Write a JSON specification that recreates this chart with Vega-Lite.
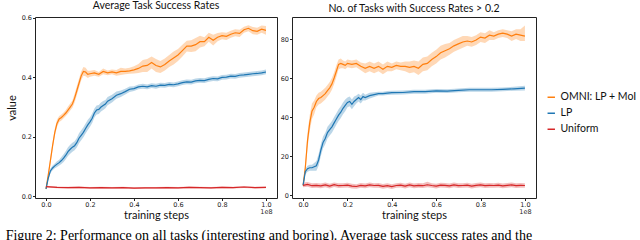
{
 "$schema": "https://vega.github.io/schema/vega-lite/v6.json",
 "padding": {"left": 5, "top": 0, "right": 0, "bottom": 0},
 "background": "white",
 "title": {"text": "Figure 2: Performance on all tasks (interesting and boring). Average task success rates and the", "orient": "bottom", "anchor": "start", "frame": "bounds", "font": "Liberation Serif", "fontSize": 14, "fontWeight": "normal", "color": "#000", "offset": 8},
 "config": {
  "view": {"stroke": "#222", "strokeWidth": 1},
  "axis": {"domain": false, "grid": false, "ticks": true, "tickColor": "#222", "tickSize": 2.5, "labelFont": "DejaVu Sans", "labelFontSize": 6.5, "labelColor": "#222", "labelPadding": 1, "labelOverlap": false, "titleFont": "Lato", "titleFontSize": 11, "titleFontWeight": "normal", "titleColor": "#111", "labelLineHeight": 7},
  "title": {"font": "Lato", "fontSize": 10.5, "fontWeight": "normal", "color": "#111", "offset": 3},
  "legend": {"title": null, "labelFont": "Lato", "labelFontSize": 10.5, "labelColor": "#111", "symbolSize": 55, "symbolStrokeWidth": 1.5, "rowPadding": 5}
 },
 "datasets": {
  "avg": [
   {"step":0,"method":"OMNI: LP + MoI","value":0.025,"lo":0.021,"hi":0.029},
   {"step":0.01,"method":"OMNI: LP + MoI","value":0.07,"lo":0.06,"hi":0.08},
   {"step":0.02,"method":"OMNI: LP + MoI","value":0.12,"lo":0.108,"hi":0.132},
   {"step":0.03,"method":"OMNI: LP + MoI","value":0.17,"lo":0.158,"hi":0.182},
   {"step":0.04,"method":"OMNI: LP + MoI","value":0.215,"lo":0.203,"hi":0.227},
   {"step":0.05,"method":"OMNI: LP + MoI","value":0.245,"lo":0.233,"hi":0.257},
   {"step":0.06,"method":"OMNI: LP + MoI","value":0.26,"lo":0.25,"hi":0.27},
   {"step":0.07,"method":"OMNI: LP + MoI","value":0.265,"lo":0.255,"hi":0.275},
   {"step":0.08,"method":"OMNI: LP + MoI","value":0.272,"lo":0.262,"hi":0.282},
   {"step":0.09,"method":"OMNI: LP + MoI","value":0.28,"lo":0.27,"hi":0.29},
   {"step":0.10,"method":"OMNI: LP + MoI","value":0.29,"lo":0.278,"hi":0.302},
   {"step":0.11,"method":"OMNI: LP + MoI","value":0.30,"lo":0.288,"hi":0.312},
   {"step":0.12,"method":"OMNI: LP + MoI","value":0.31,"lo":0.298,"hi":0.322},
   {"step":0.13,"method":"OMNI: LP + MoI","value":0.33,"lo":0.315,"hi":0.345},
   {"step":0.14,"method":"OMNI: LP + MoI","value":0.355,"lo":0.34,"hi":0.37},
   {"step":0.15,"method":"OMNI: LP + MoI","value":0.38,"lo":0.365,"hi":0.395},
   {"step":0.16,"method":"OMNI: LP + MoI","value":0.405,"lo":0.39,"hi":0.42},
   {"step":0.17,"method":"OMNI: LP + MoI","value":0.42,"lo":0.405,"hi":0.435},
   {"step":0.18,"method":"OMNI: LP + MoI","value":0.418,"lo":0.404,"hi":0.432},
   {"step":0.19,"method":"OMNI: LP + MoI","value":0.41,"lo":0.398,"hi":0.422},
   {"step":0.20,"method":"OMNI: LP + MoI","value":0.412,"lo":0.402,"hi":0.422},
   {"step":0.22,"method":"OMNI: LP + MoI","value":0.415,"lo":0.405,"hi":0.425},
   {"step":0.24,"method":"OMNI: LP + MoI","value":0.41,"lo":0.402,"hi":0.418},
   {"step":0.26,"method":"OMNI: LP + MoI","value":0.42,"lo":0.41,"hi":0.43},
   {"step":0.28,"method":"OMNI: LP + MoI","value":0.415,"lo":0.407,"hi":0.423},
   {"step":0.30,"method":"OMNI: LP + MoI","value":0.418,"lo":0.41,"hi":0.426},
   {"step":0.32,"method":"OMNI: LP + MoI","value":0.415,"lo":0.405,"hi":0.425},
   {"step":0.34,"method":"OMNI: LP + MoI","value":0.42,"lo":0.408,"hi":0.432},
   {"step":0.36,"method":"OMNI: LP + MoI","value":0.42,"lo":0.41,"hi":0.43},
   {"step":0.38,"method":"OMNI: LP + MoI","value":0.422,"lo":0.412,"hi":0.432},
   {"step":0.40,"method":"OMNI: LP + MoI","value":0.425,"lo":0.413,"hi":0.437},
   {"step":0.42,"method":"OMNI: LP + MoI","value":0.43,"lo":0.415,"hi":0.445},
   {"step":0.44,"method":"OMNI: LP + MoI","value":0.438,"lo":0.418,"hi":0.458},
   {"step":0.46,"method":"OMNI: LP + MoI","value":0.44,"lo":0.418,"hi":0.462},
   {"step":0.48,"method":"OMNI: LP + MoI","value":0.45,"lo":0.43,"hi":0.47},
   {"step":0.50,"method":"OMNI: LP + MoI","value":0.44,"lo":0.418,"hi":0.462},
   {"step":0.52,"method":"OMNI: LP + MoI","value":0.435,"lo":0.415,"hi":0.455},
   {"step":0.54,"method":"OMNI: LP + MoI","value":0.443,"lo":0.423,"hi":0.463},
   {"step":0.56,"method":"OMNI: LP + MoI","value":0.455,"lo":0.435,"hi":0.475},
   {"step":0.58,"method":"OMNI: LP + MoI","value":0.465,"lo":0.443,"hi":0.487},
   {"step":0.60,"method":"OMNI: LP + MoI","value":0.475,"lo":0.455,"hi":0.495},
   {"step":0.62,"method":"OMNI: LP + MoI","value":0.49,"lo":0.47,"hi":0.51},
   {"step":0.64,"method":"OMNI: LP + MoI","value":0.505,"lo":0.487,"hi":0.523},
   {"step":0.66,"method":"OMNI: LP + MoI","value":0.505,"lo":0.485,"hi":0.525},
   {"step":0.68,"method":"OMNI: LP + MoI","value":0.51,"lo":0.488,"hi":0.532},
   {"step":0.70,"method":"OMNI: LP + MoI","value":0.52,"lo":0.50,"hi":0.54},
   {"step":0.72,"method":"OMNI: LP + MoI","value":0.52,"lo":0.505,"hi":0.535},
   {"step":0.74,"method":"OMNI: LP + MoI","value":0.535,"lo":0.52,"hi":0.55},
   {"step":0.76,"method":"OMNI: LP + MoI","value":0.525,"lo":0.507,"hi":0.543},
   {"step":0.78,"method":"OMNI: LP + MoI","value":0.535,"lo":0.521,"hi":0.549},
   {"step":0.80,"method":"OMNI: LP + MoI","value":0.54,"lo":0.528,"hi":0.552},
   {"step":0.82,"method":"OMNI: LP + MoI","value":0.538,"lo":0.526,"hi":0.55},
   {"step":0.84,"method":"OMNI: LP + MoI","value":0.545,"lo":0.533,"hi":0.557},
   {"step":0.86,"method":"OMNI: LP + MoI","value":0.55,"lo":0.538,"hi":0.562},
   {"step":0.88,"method":"OMNI: LP + MoI","value":0.548,"lo":0.536,"hi":0.56},
   {"step":0.90,"method":"OMNI: LP + MoI","value":0.56,"lo":0.55,"hi":0.57},
   {"step":0.92,"method":"OMNI: LP + MoI","value":0.565,"lo":0.555,"hi":0.575},
   {"step":0.94,"method":"OMNI: LP + MoI","value":0.557,"lo":0.545,"hi":0.569},
   {"step":0.96,"method":"OMNI: LP + MoI","value":0.555,"lo":0.543,"hi":0.567},
   {"step":0.98,"method":"OMNI: LP + MoI","value":0.562,"lo":0.55,"hi":0.574},
   {"step":1.00,"method":"OMNI: LP + MoI","value":0.558,"lo":0.543,"hi":0.573},
   {"step":0,"method":"LP","value":0.025,"lo":0.021,"hi":0.029},
   {"step":0.01,"method":"LP","value":0.06,"lo":0.052,"hi":0.068},
   {"step":0.02,"method":"LP","value":0.085,"lo":0.077,"hi":0.093},
   {"step":0.03,"method":"LP","value":0.095,"lo":0.087,"hi":0.103},
   {"step":0.04,"method":"LP","value":0.102,"lo":0.094,"hi":0.11},
   {"step":0.05,"method":"LP","value":0.108,"lo":0.098,"hi":0.118},
   {"step":0.06,"method":"LP","value":0.113,"lo":0.103,"hi":0.123},
   {"step":0.07,"method":"LP","value":0.12,"lo":0.108,"hi":0.132},
   {"step":0.08,"method":"LP","value":0.128,"lo":0.115,"hi":0.141},
   {"step":0.09,"method":"LP","value":0.138,"lo":0.124,"hi":0.152},
   {"step":0.10,"method":"LP","value":0.15,"lo":0.135,"hi":0.165},
   {"step":0.11,"method":"LP","value":0.158,"lo":0.143,"hi":0.173},
   {"step":0.12,"method":"LP","value":0.165,"lo":0.15,"hi":0.18},
   {"step":0.13,"method":"LP","value":0.17,"lo":0.155,"hi":0.185},
   {"step":0.14,"method":"LP","value":0.18,"lo":0.164,"hi":0.196},
   {"step":0.15,"method":"LP","value":0.195,"lo":0.178,"hi":0.212},
   {"step":0.16,"method":"LP","value":0.205,"lo":0.188,"hi":0.222},
   {"step":0.17,"method":"LP","value":0.215,"lo":0.198,"hi":0.232},
   {"step":0.18,"method":"LP","value":0.228,"lo":0.211,"hi":0.245},
   {"step":0.19,"method":"LP","value":0.24,"lo":0.223,"hi":0.257},
   {"step":0.20,"method":"LP","value":0.25,"lo":0.234,"hi":0.266},
   {"step":0.21,"method":"LP","value":0.262,"lo":0.246,"hi":0.278},
   {"step":0.22,"method":"LP","value":0.28,"lo":0.265,"hi":0.295},
   {"step":0.23,"method":"LP","value":0.29,"lo":0.275,"hi":0.305},
   {"step":0.24,"method":"LP","value":0.292,"lo":0.277,"hi":0.307},
   {"step":0.25,"method":"LP","value":0.30,"lo":0.285,"hi":0.315},
   {"step":0.26,"method":"LP","value":0.305,"lo":0.29,"hi":0.32},
   {"step":0.27,"method":"LP","value":0.31,"lo":0.296,"hi":0.324},
   {"step":0.28,"method":"LP","value":0.32,"lo":0.306,"hi":0.334},
   {"step":0.30,"method":"LP","value":0.328,"lo":0.315,"hi":0.341},
   {"step":0.32,"method":"LP","value":0.34,"lo":0.328,"hi":0.352},
   {"step":0.34,"method":"LP","value":0.345,"lo":0.334,"hi":0.356},
   {"step":0.36,"method":"LP","value":0.352,"lo":0.342,"hi":0.362},
   {"step":0.38,"method":"LP","value":0.36,"lo":0.351,"hi":0.369},
   {"step":0.40,"method":"LP","value":0.362,"lo":0.354,"hi":0.37},
   {"step":0.42,"method":"LP","value":0.368,"lo":0.36,"hi":0.376},
   {"step":0.44,"method":"LP","value":0.37,"lo":0.362,"hi":0.378},
   {"step":0.46,"method":"LP","value":0.368,"lo":0.36,"hi":0.376},
   {"step":0.48,"method":"LP","value":0.372,"lo":0.364,"hi":0.38},
   {"step":0.50,"method":"LP","value":0.37,"lo":0.362,"hi":0.378},
   {"step":0.52,"method":"LP","value":0.374,"lo":0.366,"hi":0.382},
   {"step":0.54,"method":"LP","value":0.373,"lo":0.365,"hi":0.381},
   {"step":0.56,"method":"LP","value":0.376,"lo":0.368,"hi":0.384},
   {"step":0.58,"method":"LP","value":0.375,"lo":0.367,"hi":0.383},
   {"step":0.60,"method":"LP","value":0.378,"lo":0.37,"hi":0.386},
   {"step":0.62,"method":"LP","value":0.382,"lo":0.374,"hi":0.39},
   {"step":0.64,"method":"LP","value":0.385,"lo":0.377,"hi":0.393},
   {"step":0.66,"method":"LP","value":0.384,"lo":0.376,"hi":0.392},
   {"step":0.68,"method":"LP","value":0.388,"lo":0.38,"hi":0.396},
   {"step":0.70,"method":"LP","value":0.39,"lo":0.382,"hi":0.398},
   {"step":0.72,"method":"LP","value":0.389,"lo":0.381,"hi":0.397},
   {"step":0.74,"method":"LP","value":0.393,"lo":0.385,"hi":0.401},
   {"step":0.76,"method":"LP","value":0.396,"lo":0.388,"hi":0.404},
   {"step":0.78,"method":"LP","value":0.395,"lo":0.387,"hi":0.403},
   {"step":0.80,"method":"LP","value":0.40,"lo":0.392,"hi":0.408},
   {"step":0.82,"method":"LP","value":0.401,"lo":0.393,"hi":0.409},
   {"step":0.84,"method":"LP","value":0.404,"lo":0.396,"hi":0.412},
   {"step":0.86,"method":"LP","value":0.403,"lo":0.395,"hi":0.411},
   {"step":0.88,"method":"LP","value":0.407,"lo":0.399,"hi":0.415},
   {"step":0.90,"method":"LP","value":0.408,"lo":0.40,"hi":0.416},
   {"step":0.92,"method":"LP","value":0.41,"lo":0.402,"hi":0.418},
   {"step":0.94,"method":"LP","value":0.412,"lo":0.404,"hi":0.42},
   {"step":0.96,"method":"LP","value":0.413,"lo":0.405,"hi":0.421},
   {"step":0.98,"method":"LP","value":0.415,"lo":0.407,"hi":0.423},
   {"step":1.00,"method":"LP","value":0.418,"lo":0.41,"hi":0.426},
   {"step":0,"method":"Uniform","value":0.032,"lo":0.029,"hi":0.035},
   {"step":0.05,"method":"Uniform","value":0.030,"lo":0.027,"hi":0.033},
   {"step":0.10,"method":"Uniform","value":0.029,"lo":0.026,"hi":0.032},
   {"step":0.15,"method":"Uniform","value":0.030,"lo":0.027,"hi":0.033},
   {"step":0.20,"method":"Uniform","value":0.028,"lo":0.025,"hi":0.031},
   {"step":0.25,"method":"Uniform","value":0.029,"lo":0.026,"hi":0.032},
   {"step":0.30,"method":"Uniform","value":0.028,"lo":0.025,"hi":0.031},
   {"step":0.35,"method":"Uniform","value":0.029,"lo":0.026,"hi":0.032},
   {"step":0.40,"method":"Uniform","value":0.027,"lo":0.024,"hi":0.030},
   {"step":0.45,"method":"Uniform","value":0.028,"lo":0.025,"hi":0.031},
   {"step":0.50,"method":"Uniform","value":0.028,"lo":0.025,"hi":0.031},
   {"step":0.55,"method":"Uniform","value":0.029,"lo":0.026,"hi":0.032},
   {"step":0.60,"method":"Uniform","value":0.028,"lo":0.025,"hi":0.031},
   {"step":0.65,"method":"Uniform","value":0.030,"lo":0.027,"hi":0.033},
   {"step":0.70,"method":"Uniform","value":0.029,"lo":0.026,"hi":0.032},
   {"step":0.75,"method":"Uniform","value":0.028,"lo":0.025,"hi":0.031},
   {"step":0.80,"method":"Uniform","value":0.030,"lo":0.027,"hi":0.033},
   {"step":0.85,"method":"Uniform","value":0.029,"lo":0.026,"hi":0.032},
   {"step":0.90,"method":"Uniform","value":0.031,"lo":0.028,"hi":0.034},
   {"step":0.95,"method":"Uniform","value":0.029,"lo":0.026,"hi":0.032},
   {"step":1.00,"method":"Uniform","value":0.030,"lo":0.027,"hi":0.033}
  ],
  "num": [
   {"step":0,"method":"OMNI: LP + MoI","value":5,"lo":4,"hi":6},
   {"step":0.01,"method":"OMNI: LP + MoI","value":14,"lo":11,"hi":17},
   {"step":0.02,"method":"OMNI: LP + MoI","value":28,"lo":24,"hi":32},
   {"step":0.03,"method":"OMNI: LP + MoI","value":37,"lo":33,"hi":41},
   {"step":0.04,"method":"OMNI: LP + MoI","value":43,"lo":39,"hi":47},
   {"step":0.05,"method":"OMNI: LP + MoI","value":45,"lo":41.5,"hi":48.5},
   {"step":0.06,"method":"OMNI: LP + MoI","value":48,"lo":45,"hi":51},
   {"step":0.07,"method":"OMNI: LP + MoI","value":49.5,"lo":46.5,"hi":52.5},
   {"step":0.08,"method":"OMNI: LP + MoI","value":50,"lo":47,"hi":53},
   {"step":0.09,"method":"OMNI: LP + MoI","value":51,"lo":48,"hi":54},
   {"step":0.10,"method":"OMNI: LP + MoI","value":52,"lo":49,"hi":55},
   {"step":0.11,"method":"OMNI: LP + MoI","value":53.5,"lo":50.5,"hi":56.5},
   {"step":0.12,"method":"OMNI: LP + MoI","value":55,"lo":52,"hi":58},
   {"step":0.13,"method":"OMNI: LP + MoI","value":57,"lo":54,"hi":60},
   {"step":0.14,"method":"OMNI: LP + MoI","value":60,"lo":57,"hi":63},
   {"step":0.15,"method":"OMNI: LP + MoI","value":63.5,"lo":60.5,"hi":66.5},
   {"step":0.16,"method":"OMNI: LP + MoI","value":67,"lo":64.5,"hi":69.5},
   {"step":0.17,"method":"OMNI: LP + MoI","value":67.5,"lo":65,"hi":70},
   {"step":0.18,"method":"OMNI: LP + MoI","value":67,"lo":65,"hi":69},
   {"step":0.19,"method":"OMNI: LP + MoI","value":66.5,"lo":64.5,"hi":68.5},
   {"step":0.20,"method":"OMNI: LP + MoI","value":67.5,"lo":65.5,"hi":69.5},
   {"step":0.22,"method":"OMNI: LP + MoI","value":67,"lo":65,"hi":69},
   {"step":0.24,"method":"OMNI: LP + MoI","value":67.5,"lo":65.5,"hi":69.5},
   {"step":0.26,"method":"OMNI: LP + MoI","value":66,"lo":64,"hi":68},
   {"step":0.28,"method":"OMNI: LP + MoI","value":65,"lo":62.5,"hi":67.5},
   {"step":0.30,"method":"OMNI: LP + MoI","value":66,"lo":63.5,"hi":68.5},
   {"step":0.32,"method":"OMNI: LP + MoI","value":65,"lo":62.5,"hi":67.5},
   {"step":0.34,"method":"OMNI: LP + MoI","value":66,"lo":63.5,"hi":68.5},
   {"step":0.36,"method":"OMNI: LP + MoI","value":64.5,"lo":62,"hi":67},
   {"step":0.38,"method":"OMNI: LP + MoI","value":66,"lo":63.5,"hi":68.5},
   {"step":0.40,"method":"OMNI: LP + MoI","value":65.5,"lo":63.5,"hi":67.5},
   {"step":0.42,"method":"OMNI: LP + MoI","value":66.5,"lo":64.5,"hi":68.5},
   {"step":0.44,"method":"OMNI: LP + MoI","value":66,"lo":64,"hi":68},
   {"step":0.46,"method":"OMNI: LP + MoI","value":66,"lo":63.5,"hi":68.5},
   {"step":0.48,"method":"OMNI: LP + MoI","value":65.5,"lo":62.5,"hi":68.5},
   {"step":0.50,"method":"OMNI: LP + MoI","value":66,"lo":63,"hi":69},
   {"step":0.52,"method":"OMNI: LP + MoI","value":65,"lo":61.5,"hi":68.5},
   {"step":0.54,"method":"OMNI: LP + MoI","value":67,"lo":63.5,"hi":70.5},
   {"step":0.56,"method":"OMNI: LP + MoI","value":67.5,"lo":64,"hi":71},
   {"step":0.58,"method":"OMNI: LP + MoI","value":69.5,"lo":66,"hi":73},
   {"step":0.60,"method":"OMNI: LP + MoI","value":71,"lo":67.5,"hi":74.5},
   {"step":0.62,"method":"OMNI: LP + MoI","value":73,"lo":69.5,"hi":76.5},
   {"step":0.64,"method":"OMNI: LP + MoI","value":74,"lo":70.5,"hi":77.5},
   {"step":0.66,"method":"OMNI: LP + MoI","value":75,"lo":72,"hi":78},
   {"step":0.68,"method":"OMNI: LP + MoI","value":76.5,"lo":73.5,"hi":79.5},
   {"step":0.70,"method":"OMNI: LP + MoI","value":77.5,"lo":74.5,"hi":80.5},
   {"step":0.72,"method":"OMNI: LP + MoI","value":78.5,"lo":75.5,"hi":81.5},
   {"step":0.74,"method":"OMNI: LP + MoI","value":79,"lo":76.5,"hi":81.5},
   {"step":0.76,"method":"OMNI: LP + MoI","value":78.5,"lo":76,"hi":81},
   {"step":0.78,"method":"OMNI: LP + MoI","value":79.5,"lo":77,"hi":82},
   {"step":0.80,"method":"OMNI: LP + MoI","value":81,"lo":78.5,"hi":83.5},
   {"step":0.82,"method":"OMNI: LP + MoI","value":80.5,"lo":78,"hi":83},
   {"step":0.84,"method":"OMNI: LP + MoI","value":82,"lo":79.5,"hi":84.5},
   {"step":0.86,"method":"OMNI: LP + MoI","value":81.5,"lo":79.5,"hi":83.5},
   {"step":0.88,"method":"OMNI: LP + MoI","value":82.5,"lo":80.5,"hi":84.5},
   {"step":0.90,"method":"OMNI: LP + MoI","value":83,"lo":81,"hi":85},
   {"step":0.92,"method":"OMNI: LP + MoI","value":82.5,"lo":80.5,"hi":84.5},
   {"step":0.94,"method":"OMNI: LP + MoI","value":81.5,"lo":79,"hi":84},
   {"step":0.96,"method":"OMNI: LP + MoI","value":82.5,"lo":80,"hi":85},
   {"step":0.98,"method":"OMNI: LP + MoI","value":82,"lo":79,"hi":85},
   {"step":1.00,"method":"OMNI: LP + MoI","value":81.5,"lo":79,"hi":87},
   {"step":0,"method":"LP","value":5,"lo":4,"hi":6},
   {"step":0.01,"method":"LP","value":12,"lo":10.5,"hi":13.5},
   {"step":0.02,"method":"LP","value":13.5,"lo":12,"hi":15},
   {"step":0.03,"method":"LP","value":14,"lo":12.5,"hi":15.5},
   {"step":0.04,"method":"LP","value":14,"lo":12.5,"hi":15.5},
   {"step":0.05,"method":"LP","value":14.5,"lo":12.5,"hi":16.5},
   {"step":0.06,"method":"LP","value":15,"lo":12.5,"hi":17.5},
   {"step":0.07,"method":"LP","value":18,"lo":15,"hi":21},
   {"step":0.08,"method":"LP","value":23,"lo":20,"hi":26},
   {"step":0.09,"method":"LP","value":27,"lo":24,"hi":30},
   {"step":0.10,"method":"LP","value":29,"lo":26,"hi":32},
   {"step":0.11,"method":"LP","value":32,"lo":29,"hi":35},
   {"step":0.12,"method":"LP","value":33.5,"lo":30.5,"hi":36.5},
   {"step":0.13,"method":"LP","value":35,"lo":32,"hi":38},
   {"step":0.14,"method":"LP","value":37,"lo":34,"hi":40},
   {"step":0.15,"method":"LP","value":39,"lo":36,"hi":42},
   {"step":0.16,"method":"LP","value":41,"lo":38,"hi":44},
   {"step":0.17,"method":"LP","value":42.5,"lo":39.5,"hi":45.5},
   {"step":0.18,"method":"LP","value":44.5,"lo":41.5,"hi":47.5},
   {"step":0.19,"method":"LP","value":46,"lo":43,"hi":49},
   {"step":0.20,"method":"LP","value":47.5,"lo":45,"hi":50},
   {"step":0.21,"method":"LP","value":48,"lo":45.5,"hi":50.5},
   {"step":0.22,"method":"LP","value":46.5,"lo":44,"hi":49},
   {"step":0.23,"method":"LP","value":48,"lo":45.5,"hi":50.5},
   {"step":0.24,"method":"LP","value":49,"lo":47,"hi":51},
   {"step":0.25,"method":"LP","value":50,"lo":48,"hi":52},
   {"step":0.26,"method":"LP","value":49,"lo":47,"hi":51},
   {"step":0.27,"method":"LP","value":50.5,"lo":48.5,"hi":52.5},
   {"step":0.28,"method":"LP","value":50,"lo":48.5,"hi":51.5},
   {"step":0.30,"method":"LP","value":51,"lo":49.5,"hi":52.5},
   {"step":0.32,"method":"LP","value":51.5,"lo":50.3,"hi":52.7},
   {"step":0.34,"method":"LP","value":52,"lo":51,"hi":53},
   {"step":0.36,"method":"LP","value":52,"lo":51,"hi":53},
   {"step":0.38,"method":"LP","value":52.3,"lo":51.3,"hi":53.3},
   {"step":0.40,"method":"LP","value":52.5,"lo":51.5,"hi":53.5},
   {"step":0.45,"method":"LP","value":52.6,"lo":51.6,"hi":53.6},
   {"step":0.50,"method":"LP","value":53,"lo":52,"hi":54},
   {"step":0.55,"method":"LP","value":53,"lo":52,"hi":54},
   {"step":0.60,"method":"LP","value":53.4,"lo":52.4,"hi":54.4},
   {"step":0.65,"method":"LP","value":53.3,"lo":52.3,"hi":54.3},
   {"step":0.70,"method":"LP","value":53.7,"lo":52.7,"hi":54.7},
   {"step":0.75,"method":"LP","value":54,"lo":53,"hi":55},
   {"step":0.80,"method":"LP","value":54,"lo":53,"hi":55},
   {"step":0.85,"method":"LP","value":54,"lo":53,"hi":55},
   {"step":0.90,"method":"LP","value":54.2,"lo":53.2,"hi":55.2},
   {"step":0.95,"method":"LP","value":54.5,"lo":53.5,"hi":55.5},
   {"step":1.00,"method":"LP","value":54.8,"lo":53.6,"hi":56},
   {"step":0,"method":"Uniform","value":5,"lo":4,"hi":6.5},
   {"step":0.02,"method":"Uniform","value":5.5,"lo":4.3,"hi":6.7},
   {"step":0.04,"method":"Uniform","value":4.8,"lo":3.6,"hi":6},
   {"step":0.06,"method":"Uniform","value":5,"lo":3.8,"hi":6.2},
   {"step":0.08,"method":"Uniform","value":4.7,"lo":3.5,"hi":5.9},
   {"step":0.10,"method":"Uniform","value":5.2,"lo":4,"hi":6.4},
   {"step":0.12,"method":"Uniform","value":4.6,"lo":3.4,"hi":5.8},
   {"step":0.14,"method":"Uniform","value":5.3,"lo":4.1,"hi":6.5},
   {"step":0.16,"method":"Uniform","value":4.8,"lo":3.6,"hi":6},
   {"step":0.18,"method":"Uniform","value":4.9,"lo":3.7,"hi":6.1},
   {"step":0.20,"method":"Uniform","value":5.1,"lo":3.9,"hi":6.3},
   {"step":0.22,"method":"Uniform","value":4.6,"lo":3.4,"hi":5.8},
   {"step":0.24,"method":"Uniform","value":4.4,"lo":3.2,"hi":5.6},
   {"step":0.26,"method":"Uniform","value":5,"lo":3.8,"hi":6.2},
   {"step":0.28,"method":"Uniform","value":4.7,"lo":3.5,"hi":5.9},
   {"step":0.30,"method":"Uniform","value":5.2,"lo":4,"hi":6.4},
   {"step":0.32,"method":"Uniform","value":4.9,"lo":3.7,"hi":6.1},
   {"step":0.34,"method":"Uniform","value":5,"lo":3.8,"hi":6.2},
   {"step":0.36,"method":"Uniform","value":4.5,"lo":3.3,"hi":5.7},
   {"step":0.38,"method":"Uniform","value":4.8,"lo":3.6,"hi":6},
   {"step":0.40,"method":"Uniform","value":4.3,"lo":3.1,"hi":5.5},
   {"step":0.42,"method":"Uniform","value":4.9,"lo":3.7,"hi":6.1},
   {"step":0.44,"method":"Uniform","value":5.1,"lo":3.9,"hi":6.3},
   {"step":0.46,"method":"Uniform","value":4.6,"lo":3.4,"hi":5.8},
   {"step":0.48,"method":"Uniform","value":5.2,"lo":4,"hi":6.4},
   {"step":0.50,"method":"Uniform","value":4.7,"lo":3.5,"hi":5.9},
   {"step":0.52,"method":"Uniform","value":5,"lo":3.8,"hi":6.2},
   {"step":0.54,"method":"Uniform","value":4.8,"lo":3.6,"hi":6},
   {"step":0.56,"method":"Uniform","value":5.3,"lo":4,"hi":6.8},
   {"step":0.58,"method":"Uniform","value":4.9,"lo":3.7,"hi":6.1},
   {"step":0.60,"method":"Uniform","value":4.6,"lo":3.4,"hi":5.8},
   {"step":0.62,"method":"Uniform","value":5.1,"lo":3.9,"hi":6.3},
   {"step":0.64,"method":"Uniform","value":5,"lo":3.8,"hi":6.2},
   {"step":0.66,"method":"Uniform","value":4.7,"lo":3.5,"hi":5.9},
   {"step":0.68,"method":"Uniform","value":5.2,"lo":4,"hi":6.4},
   {"step":0.70,"method":"Uniform","value":4.8,"lo":3.6,"hi":6},
   {"step":0.72,"method":"Uniform","value":4.9,"lo":3.7,"hi":6.1},
   {"step":0.74,"method":"Uniform","value":5.1,"lo":3.9,"hi":6.3},
   {"step":0.76,"method":"Uniform","value":4.6,"lo":3.4,"hi":5.8},
   {"step":0.78,"method":"Uniform","value":5,"lo":3.8,"hi":6.2},
   {"step":0.80,"method":"Uniform","value":5.2,"lo":4,"hi":6.4},
   {"step":0.82,"method":"Uniform","value":4.8,"lo":3.6,"hi":6},
   {"step":0.84,"method":"Uniform","value":5,"lo":3.8,"hi":6.2},
   {"step":0.86,"method":"Uniform","value":4.9,"lo":3.7,"hi":6.1},
   {"step":0.88,"method":"Uniform","value":5.1,"lo":3.9,"hi":6.3},
   {"step":0.90,"method":"Uniform","value":4.7,"lo":3.5,"hi":5.9},
   {"step":0.92,"method":"Uniform","value":5,"lo":3.8,"hi":6.2},
   {"step":0.94,"method":"Uniform","value":5.2,"lo":4,"hi":6.4},
   {"step":0.96,"method":"Uniform","value":4.8,"lo":3.6,"hi":6},
   {"step":0.98,"method":"Uniform","value":5,"lo":3.8,"hi":6.2},
   {"step":1.00,"method":"Uniform","value":4.9,"lo":3.7,"hi":6.1}
  ]
 },
 "spacing": 15,
 "bounds": "flush",
 "hconcat": [
  {
   "width": 242, "height": 181,
   "title": "Average Task Success Rates",
   "data": {"name": "avg"},
   "layer": [
    {"mark": {"type": "area", "opacity": 0.3},
     "encoding": {
      "x": {"field": "step", "type": "quantitative", "scale": {"domain": [-0.05, 1.05], "nice": false, "zero": false}, "axis": {"title": "training steps", "titlePadding": -6, "values": [0, 0.2, 0.4, 0.6, 0.8, 1.0], "labelExpr": "datum.value == 1 ? ['1.0', '1e8'] : format(datum.value, '.1f')"}},
      "y": {"field": "lo", "type": "quantitative", "scale": {"domain": [-0.006, 0.603], "nice": false, "zero": false}, "axis": {"title": "value", "values": [0, 0.1, 0.2, 0.3, 0.4, 0.5, 0.6], "format": ".1f"}},
      "y2": {"field": "hi"},
      "fill": {"field": "method", "type": "nominal", "scale": {"domain": ["LP", "OMNI: LP + MoI", "Uniform"], "range": ["#1f77b4", "#ff7f0e", "#d62728"]}, "legend": null}
     }},
    {"mark": {"type": "line", "strokeWidth": 1.2},
     "encoding": {
      "x": {"field": "step", "type": "quantitative"},
      "y": {"field": "value", "type": "quantitative"},
      "stroke": {"field": "method", "type": "nominal", "scale": {"domain": ["OMNI: LP + MoI", "LP", "Uniform"], "range": ["#ff7f0e", "#1f77b4", "#d62728"]}, "legend": {"orient": "none", "legendX": 511, "legendY": 75, "symbolType": "stroke", "title": null}}
     }}
   ]
  },
  {
   "width": 244, "height": 181,
   "title": "No. of Tasks with Success Rates > 0.2",
   "data": {"name": "num"},
   "layer": [
    {"mark": {"type": "area", "opacity": 0.3},
     "encoding": {
      "x": {"field": "step", "type": "quantitative", "scale": {"domain": [-0.05, 1.05], "nice": false, "zero": false}, "axis": {"title": "training steps", "titlePadding": -6, "values": [0, 0.2, 0.4, 0.6, 0.8, 1.0], "labelExpr": "datum.value == 1 ? ['1.0', '1e8'] : format(datum.value, '.1f')"}},
      "y": {"field": "lo", "type": "quantitative", "scale": {"domain": [-1.5, 91.3], "nice": false, "zero": false}, "axis": {"title": null, "values": [0, 20, 40, 60, 80]}},
      "y2": {"field": "hi"},
      "fill": {"field": "method", "type": "nominal", "scale": {"domain": ["LP", "OMNI: LP + MoI", "Uniform"], "range": ["#1f77b4", "#ff7f0e", "#d62728"]}, "legend": null}
     }},
    {"mark": {"type": "line", "strokeWidth": 1.2},
     "encoding": {
      "x": {"field": "step", "type": "quantitative"},
      "y": {"field": "value", "type": "quantitative"},
      "stroke": {"field": "method", "type": "nominal", "scale": {"domain": ["OMNI: LP + MoI", "LP", "Uniform"], "range": ["#ff7f0e", "#1f77b4", "#d62728"]}, "legend": {"orient": "none", "legendX": 511, "legendY": 75, "symbolType": "stroke", "title": null}}
     }}
   ]
  }
 ]
}
